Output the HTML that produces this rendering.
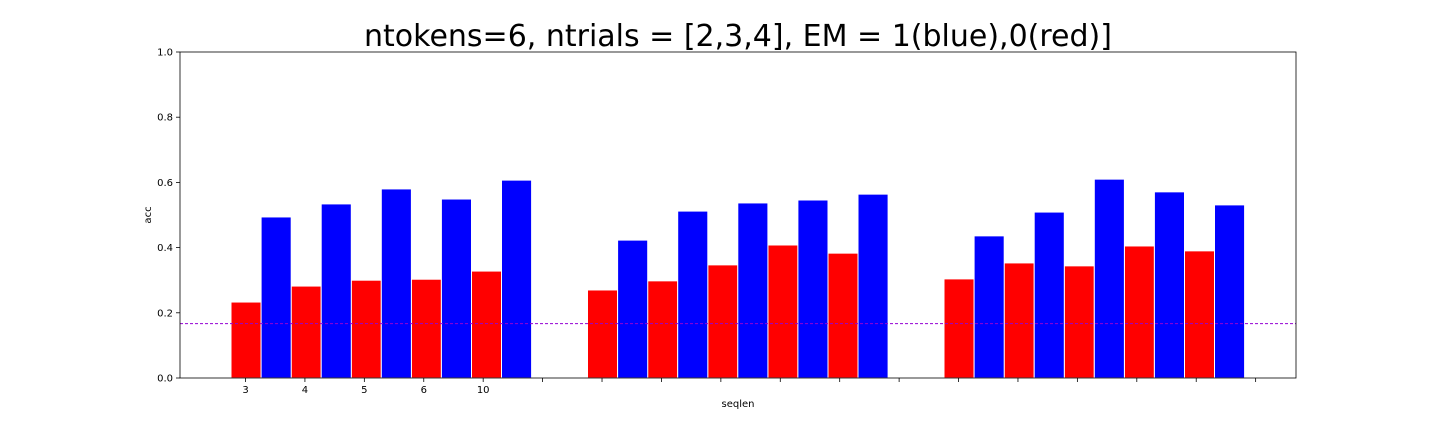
<!DOCTYPE html>
<html><head><meta charset="utf-8"><style>
body{margin:0;background:#fff;width:1440px;height:432px;overflow:hidden;font-family:"DejaVu Sans","Liberation Sans",sans-serif}
</style></head><body>
<svg id="chart" width="1440" height="432" xmlns="http://www.w3.org/2000/svg" font-family="DejaVu Sans, Liberation Sans, sans-serif">
<text x="738" y="46" font-size="30" text-anchor="middle" fill="#000">ntokens=6, ntrials = [2,3,4], EM = 1(blue),0(red)]</text>
<g id="bars"></g>
<g id="axes"></g>
<text x="738" y="407" font-size="10" text-anchor="middle">seqlen</text>
<text transform="translate(151,215) rotate(-90)" font-size="10" text-anchor="middle">acc</text>
</svg>
<script>
const xTickLabels=["3","4","5","6","10"];
const yTicks=[0,0.2,0.4,0.6,0.8,1.0];
const redValues=[0.233,0.282,0.30,0.303,0.328, 0.27,0.298,0.347,0.408,0.383, 0.304,0.353,0.344,0.405,0.39];
const blueValues=[0.494,0.534,0.58,0.549,0.607, 0.423,0.512,0.537,0.546,0.564, 0.436,0.509,0.61,0.571,0.531];
const chanceLevel=0.1667;
const ns="http://www.w3.org/2000/svg";
const L=180,R=1296,T=52,B=378;
const y=v=>B-(B-T)*v;
const tx=i=>245.5+59.42*i;
const bw=30.1;
const barX=k=>231+Math.floor(k/5)*356.5+(k%5)*60.1;
const bars=document.getElementById('bars'),axes=document.getElementById('axes');
function mk(tag,at,parent){const e=document.createElementNS(ns,tag);for(const k in at)e.setAttribute(k,at[k]);parent.appendChild(e);return e;}
redValues.forEach((v,k)=>{
  const r=mk('rect',{x:barX(k),y:y(v),width:bw,height:B-y(v),fill:'#ff0000',stroke:'#fff','stroke-width':1},bars);
  
  
});
blueValues.forEach((v,k)=>{
  const r=mk('rect',{x:barX(k)+bw,y:y(v),width:bw,height:B-y(v),fill:'#0000ff',stroke:'#fff','stroke-width':1},bars);
  
  
});
const cl=mk('line',{x1:L,x2:R,y1:y(chanceLevel),y2:y(chanceLevel),stroke:'#9400d3','stroke-width':1,'stroke-dasharray':'3,2'},axes);


const fr=mk('rect',{x:L,y:T,width:R-L,height:B-T,fill:'none',stroke:'#000','stroke-width':0.8},axes);


yTicks.forEach(v=>{
  mk('line',{x1:L-4,x2:L,y1:y(v),y2:y(v),stroke:'#000','stroke-width':0.8},axes);
  const t=mk('text',{x:L-7,y:y(v)+3.5,'font-size':10,'text-anchor':'end'},axes);
  t.textContent=v.toFixed(1);
  
  
});
for(let i=0;i<18;i++){
  mk('line',{x1:tx(i),x2:tx(i),y1:B,y2:B+4,stroke:'#000','stroke-width':0.8},axes);
  if(i<xTickLabels.length){
    const t=mk('text',{x:tx(i),y:B+15,'font-size':10,'text-anchor':'middle'},axes);
    t.textContent=xTickLabels[i];
    
    
  }
}
</script>
</body></html>
